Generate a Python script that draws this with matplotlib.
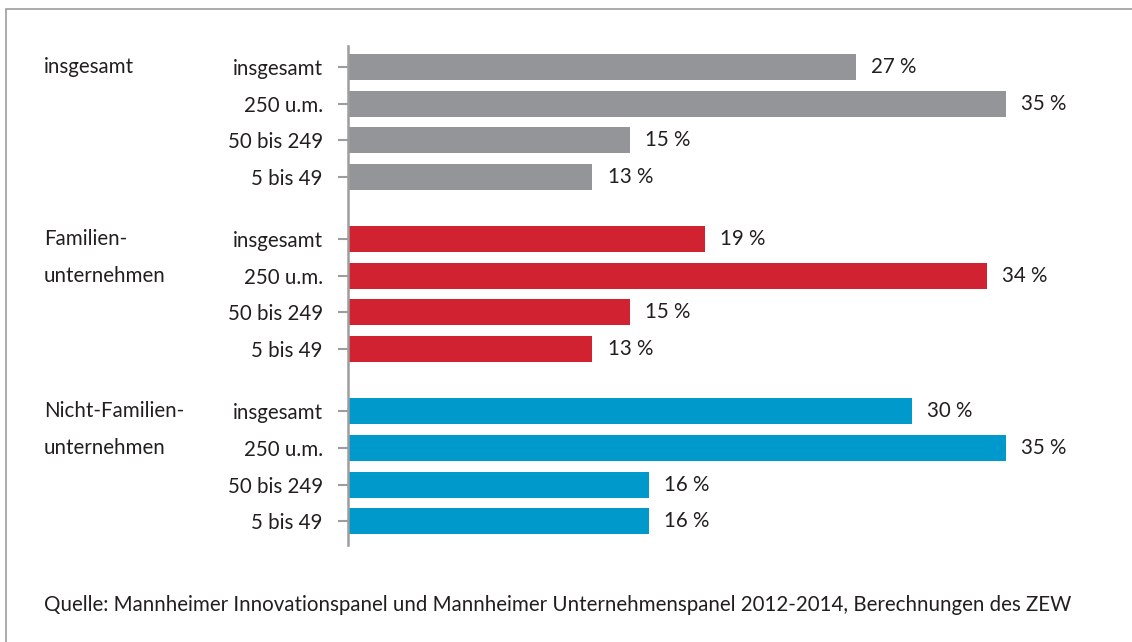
import matplotlib.pyplot as plt
from matplotlib.patches import Rectangle

plt.rcParams['font.family'] = ['Lato', 'DejaVu Sans']

# data
groups = ['insgesamt', 'Familien-\nunternehmen', 'Nicht-Familien-\nunternehmen']
sizes = ['insgesamt', '250 u.m.', '50 bis 249', '5 bis 49']
total = [27, 35, 15, 13]
family = [19, 34, 15, 13]
nonfamily = [30, 35, 16, 16]
colors = ['#939598', '#d12232', '#0099cc']
source = ('Quelle: Mannheimer Innovationspanel und Mannheimer Unternehmenspanel '
          '2012-2014, Berechnungen des ZEW')

W, H = 1132, 642
fs = 14.8
text_col = '#231f20'

fig = plt.figure(figsize=(W / 100, H / 100), dpi=100)
fig.patch.set_facecolor('white')

# axes spans the bar area (px 348..1006 horizontally, 46..545 vertically)
ax = fig.add_axes([348 / W, 1 - 545 / H, (1006 - 348) / W, (545 - 46) / H])

gap = 0.7
ticks, ticklabels = [], []
for g, vals in enumerate([total, family, nonfamily]):
    base = g * (4 + gap)
    ys = [base + r for r in range(4)]
    ax.barh(ys, vals, height=0.71, color=colors[g], zorder=2)
    for y, v in zip(ys, vals):
        ax.annotate(f'{v} %', (v, y), xytext=(11, 0), textcoords='offset points',
                    va='center', ha='left', fontsize=fs, color=text_col,
                    annotation_clip=False)
    ticks += ys
    ticklabels += sizes
    # group name, one line per row
    for i, line in enumerate(groups[g].split('\n')):
        ax.text(-304 / 18.8, base + i, line, fontsize=fs, color=text_col,
                va='center', ha='left')

last = 2 * (4 + gap) + 3
ax.set_xlim(0, 35)
ax.set_ylim(last + 0.65, -0.57)
ax.set_yticks(ticks)
ax.set_yticklabels(ticklabels, fontsize=fs, color=text_col)
ax.tick_params(axis='y', length=7.2, width=1.5, color='#9d9d9d', pad=11)
ax.set_xticks([])
for s in ['top', 'right', 'bottom']:
    ax.spines[s].set_visible(False)
ax.spines['left'].set_color('#9d9d9d')
ax.spines['left'].set_linewidth(1.8)
ax.patch.set_alpha(0)

fig.text(44 / W, 1 - 605 / H, source, fontsize=fs, color=text_col, va='center', ha='left')

# frame (only top and left edges fall inside the image)
fig.patches.append(Rectangle((6 / W, -0.1), 1.2, 1 - 9 / H + 0.1, transform=fig.transFigure,
                             fill=False, edgecolor='#9d9d9d', linewidth=1.2))

fig.savefig('out.png', dpi=100)
